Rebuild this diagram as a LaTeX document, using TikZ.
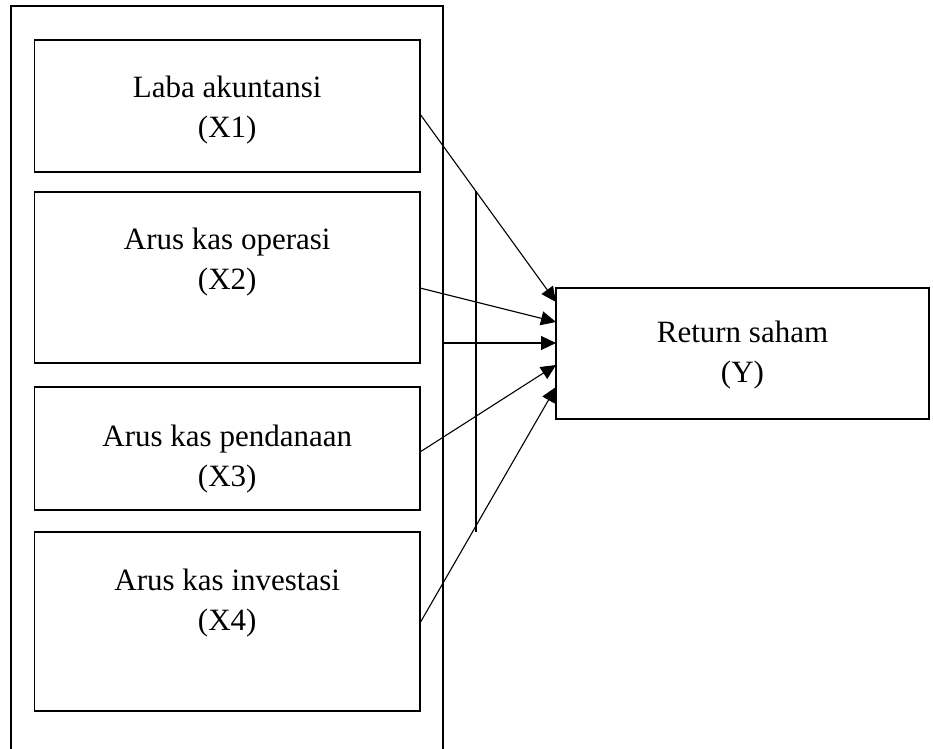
\documentclass[tikz,border=0pt]{standalone}
\usepackage{fontspec}
\setmainfont{Liberation Serif}
\usetikzlibrary{arrows.meta}

\tikzset{
    box/.style={draw, line width=0.6pt, inner sep=0pt, outer sep=0pt, minimum width=192.75pt},
    lbl/.style={align=center, font=\fontsize{15.5}{20}\selectfont},
    link/.style={line width=0.55pt, -{Triangle[length=7.5pt,width=7pt]}}
}

\begin{document}
\begin{tikzpicture}[x=0.5pt,y=-0.5pt]
    \useasboundingbox (0,0) rectangle (933,749);

    %frame
    \draw[line width=0.6pt] (11,749) -- (11,6) -- (443,6) -- (443,749);
    \coordinate (split) at (443,343);
    \draw[line width=0.6pt] (476,191) -- (476,532);

    %variables
    \node[box, minimum height=66pt] (x1) at (227.25,106) {};
    \node[box, minimum height=85.5pt] (x2) at (227.25,277.5) {};
    \node[box, minimum height=61.5pt] (x3) at (227.25,448.5) {};
    \node[box, minimum height=89.5pt] (x4) at (227.25,621.5) {};
    \node[box, minimum width=186.5pt, minimum height=65.5pt] (y) at (742.5,353.5) {};

    \node[lbl] (lx1) at (227.25,110) {Laba akuntansi\\(X1)};
    \node[lbl] (lx2) at (227.25,262.5) {Arus kas operasi\\(X2)};
    \node[lbl] (lx3) at (227.25,459) {Arus kas pendanaan\\(X3)};
    \node[lbl] (lx4) at (227.25,603) {Arus kas investasi\\(X4)};
    \node[lbl] (ly) at (742.5,355.5) {Return saham\\(Y)};

    %arrows
    \draw[link] ([yshift=-4pt]x1.east) -- ([yshift=25.75pt]y.west);
    \draw[link] ([yshift=-5.25pt]x2.east) -- ([yshift=15.75pt]y.west);
    \draw[link] (split) -- ([yshift=5.25pt]y.west);
    \draw[link] ([yshift=-1.75pt]x3.east) -- ([yshift=-5.75pt]y.west);
    \draw[link] ([yshift=-0.75pt]x4.east) -- ([yshift=-16.75pt]y.west);

\end{tikzpicture}
\end{document}
